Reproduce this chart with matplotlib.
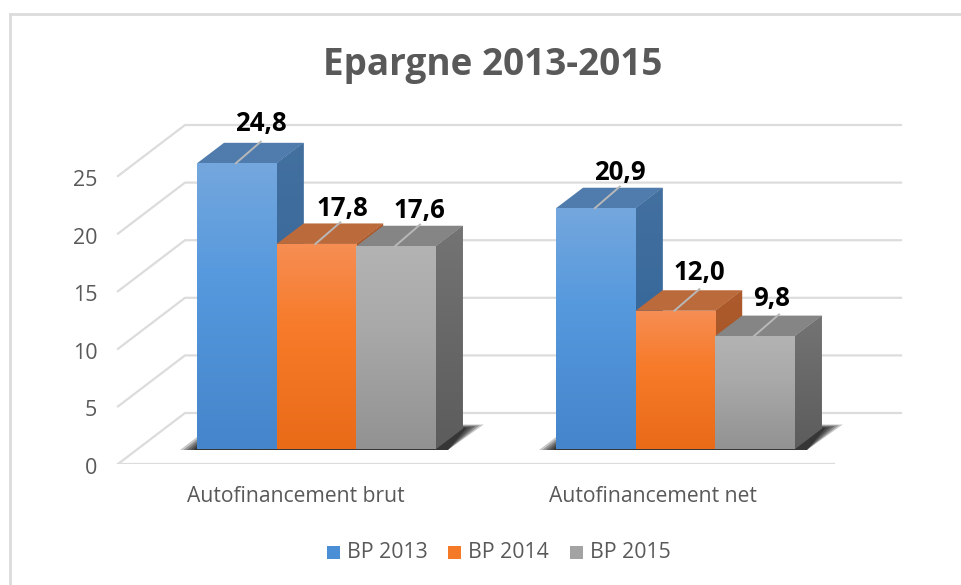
import numpy as np
import matplotlib
matplotlib.use("Agg")
import matplotlib.pyplot as plt
from matplotlib.patches import Polygon, Rectangle
from matplotlib.colors import LinearSegmentedColormap
from matplotlib.transforms import ScaledTranslation

categories = ["Autofinancement brut", "Autofinancement net"]
series_names = ["BP 2013", "BP 2014", "BP 2015"]
bp2013 = [24.8, 20.9]
bp2014 = [17.8, 12.0]
bp2015 = [17.6, 9.8]
value_labels = [["24,8", "20,9"], ["17,8", "12,0"], ["17,6", "9,8"]]
y_ticks = [0, 5, 10, 15, 20, 25]

W, H = 961, 585
plt.rcParams['font.family'] = ['Open Sans', 'DejaVu Sans']
fig = plt.figure(figsize=(W / 100, H / 100), dpi=100)

# Full-figure helper axes in pixel coordinates (frame, legend)
bg = fig.add_axes([0, 0, 1, 1])
bg.set_xlim(0, W); bg.set_ylim(H, 0); bg.axis("off")
bg.plot([10, 10], [H, 14], color="#dcdcdc", lw=2)
bg.plot([10, W], [14, 14], color="#dcdcdc", lw=2)

# Chart axes: x in px of the figure, y in value units, 0 at the floor front
PX = 57.6 / 5
y0_px = 464
top_val = 30.0
ax = fig.add_axes([0, (H - y0_px) / H, 1, top_val * PX / H])
ax.set_xlim(0, W); ax.set_ylim(0, top_val)
ax.patch.set_alpha(0)
for s in ax.spines.values():
    s.set_visible(False)
ax.set_xticks([])
ax.set_yticks(y_ticks)
ax.tick_params(axis="y", length=0, labelsize=15.5, labelcolor="#595959", pad=-70)
for lab in ax.get_yticklabels():
    lab.set_transform(lab.get_transform() + ScaledTranslation(0, -2 / 100, fig.dpi_scale_trans))

# wall and floor
wall_dx, wall_dy = 67, 51 / PX
left, right = 118, 834
grid_c = "#dcdcdc"
for t in y_ticks:
    ax.plot([left, left + wall_dx, right + wall_dx],
            [t, t + wall_dy, t + wall_dy], color=grid_c, lw=1.6, zorder=1)
ax.plot([left, right], [0, 0], color=grid_c, lw=1.6, zorder=1)

# bars
base = 15 / PX
bar_dx, bar_dy = 27, 20.5 / PX
group_left = [197, 556]
bar_w = 79.6
front_cols = [("#74a7de", "#5699dd", "#4585cb"),
              ("#f68e54", "#f77b2a", "#e96b18"),
              ("#b3b3b3", "#a9a9a9", "#929292")]
top_cols = ["#4f7cac", "#bb6a3c", "#858585"]
side_cols = [("#43709f", "#3a6a9c", "#2f6297"),
             ("#ad5a2c", "#a85828", "#a05520"),
             ("#747474", "#6a6a6a", "#5c5c5c")]
values = [bp2013, bp2014, bp2015]
label_nudge_x = [[0, 0], [2, 0], [-1, -7]]
label_nudge_y = [[0, -4], [-4, -1], [-4, -2]]


def shade(patch, stops):
    cmap = LinearSegmentedColormap.from_list("g", [(0, stops[0]), (0.4, stops[1]), (1, stops[2])])
    grad = np.linspace(0, 1, 256)[:, None]
    ext = patch.get_path().transformed(patch.get_patch_transform()).get_extents()
    im = ax.imshow(grad, cmap=cmap, extent=(ext.x0, ext.x1, ext.y0, ext.y1), origin="upper",
                   aspect="auto", zorder=patch.get_zorder())
    im.set_clip_path(patch)
    ax.set_xlim(0, W); ax.set_ylim(0, top_val)


# floor shadows: nested layers, dark near the bars and fading outwards
for g in range(2):
    x0 = group_left[g]
    x1 = x0 + 3 * bar_w
    for k, alpha in ((1.0, .25), (.8, .3), (.6, .35), (.4, .4), (.2, .5)):
        ax.add_patch(Polygon([(x0 - 17 * k, base - 1 / PX), (x1 + 12, base - 1 / PX),
                              (x1 + 27 + 21 * k, base + bar_dy + 4 * k / PX),
                              (x1 + 20, base + bar_dy + 4 * k / PX),
                              (x0, base + 12 * k / PX)],
                             closed=True, fc="#202020", ec="none", alpha=alpha, zorder=2))

for g in range(2):
    for s in range(3):
        v = values[s][g]
        x0 = group_left[g] + s * bar_w
        x1 = x0 + bar_w
        top = base + v
        z = 3 + s
        side = Polygon([(x1, base), (x1 + bar_dx, base + bar_dy), (x1 + bar_dx, top + bar_dy), (x1, top)],
                       closed=True, fc=side_cols[s][1], ec="none", zorder=z)
        ax.add_patch(side)
        shade(side, side_cols[s])
        ax.add_patch(Polygon([(x0, top), (x1, top), (x1 + bar_dx, top + bar_dy), (x0 + bar_dx, top + bar_dy)],
                             closed=True, fc=top_cols[s], ec="none", zorder=z + 0.1))
        front = Rectangle((x0, base), bar_w, v, fc=front_cols[s][1], ec="none", zorder=z + 0.2)
        ax.add_patch(front)
        shade(front, front_cols[s])
        xc = x0 + bar_w / 2
        ax.plot([xc - 1, xc + bar_dx - 3], [top, top + bar_dy + 0.1], color="#b8b8b8", lw=1.4, zorder=z + 0.3)
        ax.text(xc + 24 + label_nudge_x[s][g], top + bar_dy + (19 + label_nudge_y[s][g]) / PX, value_labels[s][g],
                ha="center", va="center", fontsize=18.5, fontweight="bold", color="black", zorder=10)

# category labels
for g, c in enumerate(categories):
    bg.text([296, 653][g], 496, c, ha="center", va="center", fontsize=15.2, color="#595959")

fig.text(493 / W, 1 - 65 / H, "Epargne 2013-2015", ha="center", va="center",
         fontsize=26.6, fontweight="bold", color="#595959")

# legend
legend_colors = ["#4a8fd6", "#f47a28", "#a3a3a3"]
for x_sq, x_txt, col, name in zip([327, 448, 570], [347, 468, 590], legend_colors, series_names):
    bg.add_patch(Rectangle((x_sq, 546), 13, 13, fc=col, ec="none"))
    bg.text(x_txt, 553, name, ha="left", va="center", fontsize=15.3, color="#595959")

fig.savefig("out.png", dpi=100)
